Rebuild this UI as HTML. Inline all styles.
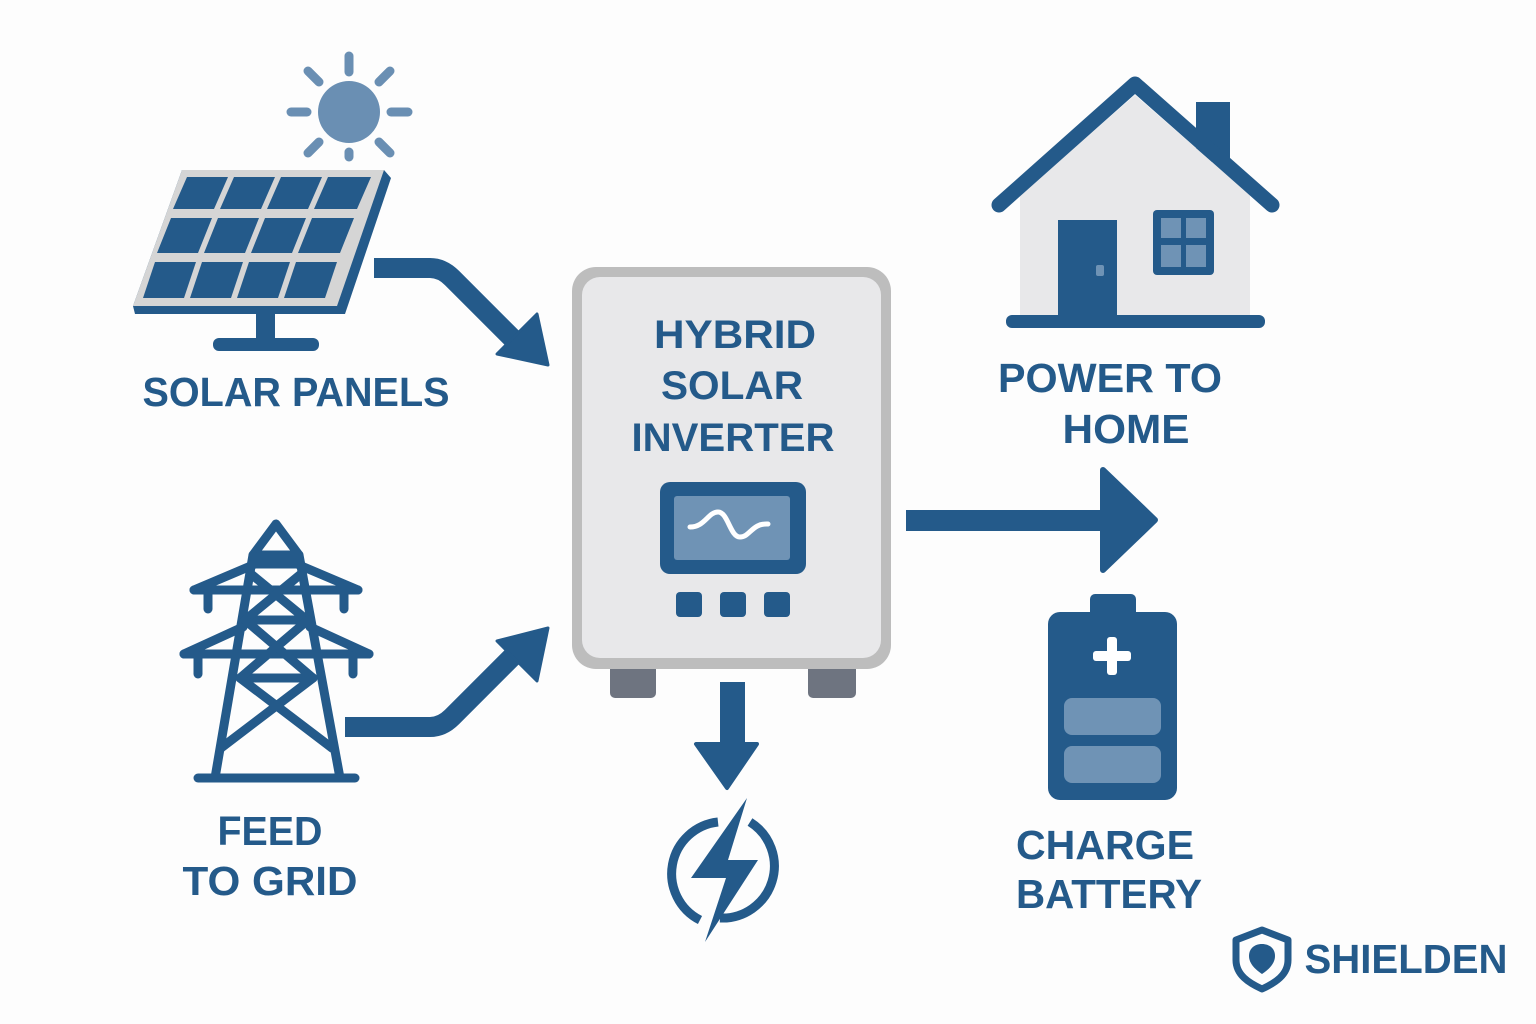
<!DOCTYPE html>
<html><head><meta charset="utf-8"><style>html,body{margin:0;padding:0;background:#fdfdfd}svg{display:block}text{font-family:"Liberation Sans",sans-serif;font-weight:bold;fill:#245A8A;text-anchor:middle}</style></head>
<body>
<svg width="1536" height="1024" viewBox="0 0 1536 1024" xmlns="http://www.w3.org/2000/svg">
<rect width="1536" height="1024" fill="#fdfdfd"/>
<g stroke="#6A8FB3" stroke-width="9" stroke-linecap="round" fill="none">
<line x1="349" y1="56" x2="349" y2="72"/><line x1="349" y1="152" x2="349" y2="157"/>
<line x1="291" y1="112" x2="307" y2="112"/><line x1="391" y1="112" x2="408" y2="112"/>
<line x1="308" y1="71" x2="319" y2="82"/><line x1="379" y1="142" x2="390" y2="153"/>
<line x1="390" y1="71" x2="379" y2="82"/><line x1="319" y1="142" x2="308" y2="153"/>
</g>
<circle cx="349" cy="112" r="31" fill="#6A8FB3"/>
<polygon points="182,170 384,170 391,178 345,314 135,314 133,306" fill="#245A8A"/>
<polygon points="182,170 384,170 337,306 133,306" fill="#D5D5D5"/>
<g fill="#245A8A">
<polygon points="187,177 228,177 214,209 173,209"/>
<polygon points="234,177 275,177 261,209 220,209"/>
<polygon points="281,177 322,177 308,209 267,209"/>
<polygon points="328,177 371,177 357,209 314,209"/>
<polygon points="171,218 212,218 198,253 157,253"/>
<polygon points="218,218 259,218 245,253 204,253"/>
<polygon points="265,218 306,218 292,253 251,253"/>
<polygon points="312,218 354,218 340,253 298,253"/>
<polygon points="155,262 196,262 184,298 143,298"/>
<polygon points="202,262 243,262 231,298 190,298"/>
<polygon points="249,262 290,262 278,298 237,298"/>
<polygon points="296,262 337,262 325,298 284,298"/>
<rect x="256" y="312" width="19" height="32"/>
<rect x="213" y="338" width="106" height="13" rx="6"/>
</g>
<path d="M374,268 L430,268 Q442,268 452,278 L512,338" stroke="#245A8A" stroke-width="20" fill="none"/>
<polygon points="497,354 537,314 548,365" fill="#245A8A" stroke="#245A8A" stroke-width="3" stroke-linejoin="round"/>
<path d="M345,727 L430,727 Q442,727 452,717 L512,657" stroke="#245A8A" stroke-width="20" fill="none"/>
<polygon points="497,641 537,681 548,628" fill="#245A8A" stroke="#245A8A" stroke-width="3" stroke-linejoin="round"/>
<g stroke="#245A8A" stroke-width="9" stroke-linecap="round" stroke-linejoin="round" fill="none">
<polygon points="276,524 253,555 299,555"/>
<line x1="253" y1="555" x2="215" y2="778"/><line x1="299" y1="555" x2="340" y2="778"/>
<line x1="253" y1="564" x2="299" y2="564"/>
<line x1="198" y1="778" x2="355" y2="778"/>
<line x1="194" y1="590" x2="358" y2="590"/><line x1="194" y1="590" x2="253" y2="565"/><line x1="358" y1="590" x2="299" y2="565"/>
<line x1="208" y1="592" x2="208" y2="609"/><line x1="344" y1="592" x2="344" y2="609"/>
<line x1="184" y1="654" x2="369" y2="654"/><line x1="184" y1="654" x2="243" y2="627"/><line x1="369" y1="654" x2="310" y2="627"/>
<line x1="198" y1="656" x2="198" y2="674"/><line x1="353" y1="656" x2="353" y2="674"/>
<line x1="245" y1="620" x2="308" y2="620"/><line x1="240" y1="678" x2="313" y2="678"/>
<line x1="251" y1="574" x2="307" y2="620"/><line x1="301" y1="574" x2="245" y2="620"/>
<line x1="245" y1="620" x2="313" y2="678"/><line x1="308" y1="620" x2="240" y2="678"/>
<line x1="240" y1="678" x2="332" y2="748"/><line x1="313" y1="678" x2="221" y2="748"/>
</g>
<rect x="610" y="660" width="46" height="38" rx="5" fill="#6E7480"/>
<rect x="808" y="660" width="48" height="38" rx="5" fill="#6E7480"/>
<rect x="572" y="267" width="319" height="402" rx="24" fill="#BDBDBD"/>
<rect x="582" y="277" width="299" height="381" rx="18" fill="#E8E8EA"/>
<rect x="660" y="482" width="146" height="92" rx="10" fill="#245A8A"/>
<rect x="674" y="496" width="116" height="64" rx="3" fill="#6F93B5"/>
<path d="M690,527 C705,527 708,512 718,512 C728,512 730,537 740,537 C750,537 752,523 768,524" stroke="#fff" stroke-width="5" stroke-linecap="round" fill="none"/>
<rect x="676" y="592" width="26" height="25" rx="4" fill="#245A8A"/>
<rect x="720" y="592" width="26" height="25" rx="4" fill="#245A8A"/>
<rect x="764" y="592" width="26" height="25" rx="4" fill="#245A8A"/>
<rect x="720" y="682" width="25" height="64" fill="#245A8A"/>
<polygon points="696,744 757,744 727,788" fill="#245A8A" stroke="#245A8A" stroke-width="4" stroke-linejoin="round"/>
<path d="M718,822 A52,52 0 0 0 700,920" stroke="#245A8A" stroke-width="9" fill="none"/>
<path d="M750,822 A52,52 0 0 1 720,918" stroke="#245A8A" stroke-width="9" fill="none"/>
<polygon points="747,798 728,860 758,860 705,942 726,878 691,878" fill="#245A8A"/>
<rect x="906" y="510" width="200" height="21" fill="#245A8A"/>
<polygon points="1103,470 1103,570 1155,520" fill="#245A8A" stroke="#245A8A" stroke-width="6" stroke-linejoin="round"/>
<rect x="1196" y="102" width="34" height="60" fill="#245A8A"/>
<polygon points="1020,195 1135,95 1250,195 1250,318 1020,318" fill="#E8E8EA"/>
<polyline points="999,205 1135,84 1272,205" stroke="#245A8A" stroke-width="15" stroke-linecap="round" stroke-linejoin="round" fill="none"/>
<rect x="1058" y="220" width="59" height="100" fill="#245A8A"/>
<rect x="1096" y="265" width="8" height="11" rx="2" fill="#6F93B5"/>
<rect x="1153" y="210" width="61" height="65" rx="4" fill="#245A8A"/>
<rect x="1161" y="218" width="20" height="20" fill="#6F93B5"/><rect x="1186" y="218" width="20" height="20" fill="#6F93B5"/>
<rect x="1161" y="245" width="20" height="22" fill="#6F93B5"/><rect x="1186" y="245" width="20" height="22" fill="#6F93B5"/>
<rect x="1006" y="315" width="259" height="13" rx="6" fill="#245A8A"/>
<rect x="1090" y="594" width="46" height="26" rx="5" fill="#245A8A"/>
<rect x="1048" y="612" width="129" height="188" rx="12" fill="#245A8A"/>
<rect x="1107" y="637" width="10" height="38" rx="3" fill="#fff"/>
<rect x="1093" y="651" width="38" height="10" rx="3" fill="#fff"/>
<rect x="1064" y="698" width="97" height="37" rx="8" fill="#6F93B5"/>
<rect x="1064" y="746" width="97" height="37" rx="8" fill="#6F93B5"/>
<path d="M1262,930 L1288,940 L1288,960 C1288,975 1275,983 1262,989 C1249,983 1236,975 1236,960 L1236,940 Z" stroke="#245A8A" stroke-width="7" fill="none" stroke-linejoin="round"/>
<path d="M1262,944 C1270,944 1275,949 1275,956 C1275,964 1268,970 1262,974 C1256,970 1249,964 1249,956 C1249,949 1254,944 1262,944 Z" fill="#245A8A"/>
<text x="296" y="406" font-size="41" textLength="307" lengthAdjust="spacingAndGlyphs">SOLAR PANELS</text>
<text x="735" y="348" font-size="40" textLength="162" lengthAdjust="spacingAndGlyphs">HYBRID</text>
<text x="732" y="399" font-size="40" textLength="142" lengthAdjust="spacingAndGlyphs">SOLAR</text>
<text x="733" y="451" font-size="40" textLength="203" lengthAdjust="spacingAndGlyphs">INVERTER</text>
<text x="1110" y="392" font-size="41" textLength="224" lengthAdjust="spacingAndGlyphs">POWER TO</text>
<text x="1126" y="443" font-size="41" textLength="127" lengthAdjust="spacingAndGlyphs">HOME</text>
<text x="270" y="845" font-size="41" textLength="105" lengthAdjust="spacingAndGlyphs">FEED</text>
<text x="270" y="895" font-size="41" textLength="175" lengthAdjust="spacingAndGlyphs">TO GRID</text>
<text x="1105" y="859" font-size="41" textLength="178" lengthAdjust="spacingAndGlyphs">CHARGE</text>
<text x="1109" y="908" font-size="41" textLength="186" lengthAdjust="spacingAndGlyphs">BATTERY</text>
<text x="1406" y="973" font-size="41" textLength="203" lengthAdjust="spacingAndGlyphs">SHIELDEN</text>
</svg>
</body></html>
